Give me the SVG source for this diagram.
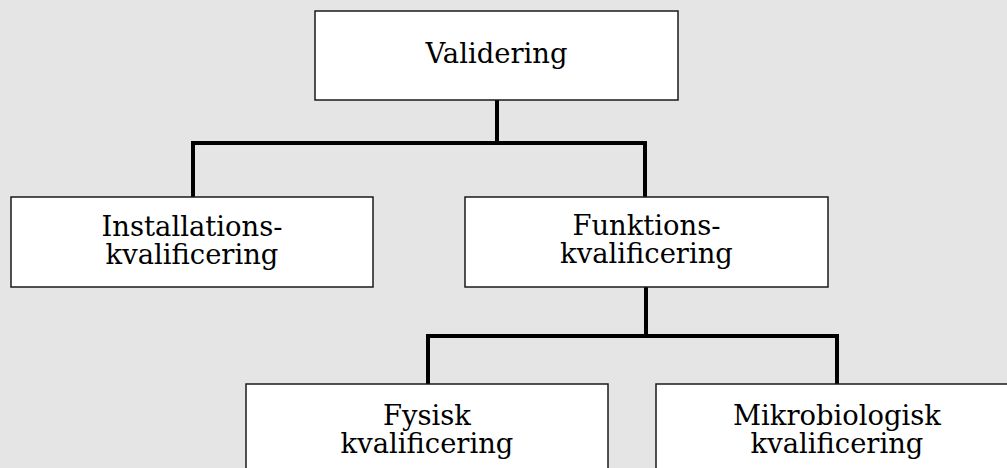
<svg xmlns="http://www.w3.org/2000/svg" width="1007" height="468" viewBox="0 0 1007 468">
<style>
.box{fill:#ffffff;stroke:#1a1a1a;stroke-width:1.5}
.lbl{font-family:"DejaVu Serif","Liberation Serif",serif;font-size:27.4px;fill:#000;text-anchor:middle}
.conn{fill:none;stroke:#000;stroke-width:4;stroke-linejoin:miter;stroke-linecap:square}
</style>
<rect x="0" y="0" width="1007" height="468" fill="#e5e5e5"/>
<g id="connectors">
<path class="conn" d="M497,101 V143 M193,195 V143 H645 V195"/>
<path class="conn" d="M646,289 V336 M428,382 V336 H837 V382"/>
</g>
<g id="validering">
<rect class="box" x="315" y="11" width="363" height="89"/>
<text class="lbl" x="496.5" y="63">Validering</text>
</g>
<g id="installation">
<rect class="box" x="11" y="197" width="362" height="90"/>
<text class="lbl" x="192" y="236">Installations-</text>
<text class="lbl" x="192" y="264">kvalificering</text>
</g>
<g id="funktion">
<rect class="box" x="465" y="197" width="363" height="90"/>
<text class="lbl" x="646.5" y="235">Funktions-</text>
<text class="lbl" x="646.5" y="263">kvalificering</text>
</g>
<g id="fysisk">
<rect class="box" x="246" y="384" width="362" height="100"/>
<text class="lbl" x="427" y="425">Fysisk</text>
<text class="lbl" x="427" y="453">kvalificering</text>
</g>
<g id="mikrobiologisk">
<rect class="box" x="656" y="384" width="362" height="100"/>
<text class="lbl" x="837" y="425">Mikrobiologisk</text>
<text class="lbl" x="837" y="453">kvalificering</text>
</g>
</svg>
